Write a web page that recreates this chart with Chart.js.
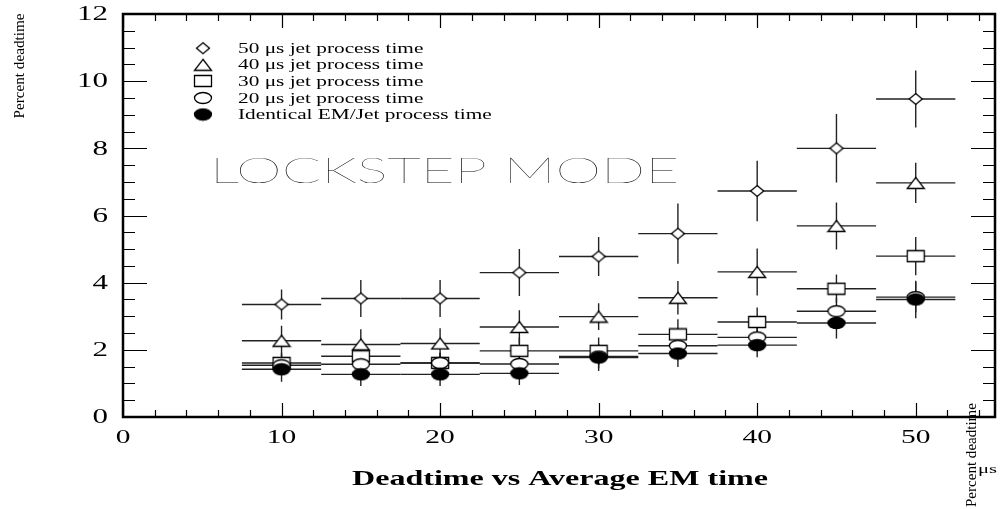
<!DOCTYPE html>
<html>
<head>
<meta charset="utf-8">
<script src="https://cdn.jsdelivr.net/npm/chart.js@4"></script>
<style>
  html, body { margin: 0; padding: 0; background: #fff; }
  #wrap { width: 1000px; height: 509px; }
</style>
</head>
<body>
<div id="wrap"><canvas id="deadtimeChart" width="1000" height="509"></canvas></div>
<script>
// average EM time (us) and half width of each bin
var emTime = [10, 15, 20, 25, 30, 35, 40, 45, 50];
var emHalfWidth = [2.5, 2.5, 2.5, 2.5, 2.5, 2.5, 2.5, 2.5, 2.5];

// percent deadtime per jet process time
var jet50 = [3.35, 3.53, 3.53, 4.30, 4.78, 5.46, 6.73, 8.00, 9.47];
var jet50Err = [0.45, 0.55, 0.55, 0.70, 0.58, 0.90, 0.90, 1.02, 0.85];
var jet40 = [2.27, 2.16, 2.19, 2.68, 2.99, 3.55, 4.32, 5.69, 6.97];
var jet40Err = [0.45, 0.45, 0.45, 0.50, 0.40, 0.50, 0.70, 0.70, 0.60];
var jet30 = [1.61, 1.81, 1.61, 1.97, 1.97, 2.46, 2.83, 3.82, 4.79];
var jet30Err = [0.30, 0.35, 0.30, 0.40, 0.40, 0.45, 0.43, 0.42, 0.57];
var jet20 = [1.54, 1.57, 1.61, 1.58, 1.80, 2.12, 2.37, 3.15, 3.57];
var jet20Err = [0.30, 0.30, 0.30, 0.30, 0.35, 0.35, 0.35, 0.40, 0.45];
var identical = [1.42, 1.27, 1.27, 1.30, 1.77, 1.89, 2.14, 2.80, 3.50];
var identicalErr = [0.37, 0.35, 0.35, 0.35, 0.40, 0.40, 0.36, 0.46, 0.56];

var seriesLabels = [
  "50 \u03bcs jet process time",
  "40 \u03bcs jet process time",
  "30 \u03bcs jet process time",
  "20 \u03bcs jet process time",
  "Identical EM/Jet process time"
];

var xTicks = [0, 10, 20, 30, 40, 50];
var yTicks = [0, 2, 4, 6, 8, 10, 12];

// markers are a bit wider than tall, like the original plot
function makeMarker(kind) {
  var w = 17, h = 11;
  if (kind == "diamond") w = 13;
  var c = document.createElement("canvas");
  c.width = w + 3; c.height = h + 3;
  var g = c.getContext("2d");
  var cx = c.width / 2, cy = c.height / 2;
  g.lineWidth = 1.3;
  g.strokeStyle = "#000";
  g.fillStyle = kind == "filled" ? "#000" : "#fff";
  g.beginPath();
  if (kind == "diamond") {
    g.moveTo(cx, cy - h / 2); g.lineTo(cx + w / 2, cy); g.lineTo(cx, cy + h / 2); g.lineTo(cx - w / 2, cy); g.closePath();
  } else if (kind == "triangle") {
    g.moveTo(cx, cy - h / 2); g.lineTo(cx + w / 2, cy + h / 2); g.lineTo(cx - w / 2, cy + h / 2); g.closePath();
  } else if (kind == "square") {
    g.rect(cx - w / 2, cy - h / 2, w, h);
  } else {
    g.ellipse(cx, cy, w / 2, h / 2, 0, 0, Math.PI * 2);
  }
  g.fill();
  g.stroke();
  return c;
}

var markers = [makeMarker("diamond"), makeMarker("triangle"), makeMarker("square"), makeMarker("circle"), makeMarker("filled")];
var allValues = [jet50, jet40, jet30, jet20, identical];
var allErrors = [jet50Err, jet40Err, jet30Err, jet20Err, identicalErr];

function toPoints(vals) {
  return emTime.map(function (x, i) { return { x: x, y: vals[i] }; });
}

var datasets = allValues.map(function (vals, k) {
  return {
    label: seriesLabels[k],
    data: toPoints(vals),
    pointStyle: markers[k],
    showLine: false,
    order: 5 - k,
    errY: allErrors[k]
  };
});

// text squeezed into the space the original used
function putText(ctx, text, x, y, font, width, align, scale) {
  ctx.save();
  ctx.font = font;
  var s = scale || 1;
  if (width) s = width / ctx.measureText(text).width;
  ctx.translate(x, y);
  ctx.scale(s, 1);
  ctx.textAlign = align || "left";
  ctx.fillStyle = "#000";
  ctx.fillText(text, 0, 0);
  ctx.restore();
}

function putTextUp(ctx, text, x, y, font, length) {
  ctx.save();
  ctx.font = font;
  var s = length / ctx.measureText(text).width;
  ctx.translate(x, y);
  ctx.rotate(-Math.PI / 2);
  ctx.scale(s, 1);
  ctx.textAlign = "center";
  ctx.textBaseline = "middle";
  ctx.fillStyle = "#000";
  ctx.fillText(text, 0, 0);
  ctx.restore();
}

var errorBars = {
  id: "errorBars",
  beforeDatasetsDraw: function (chart) {
    var ctx = chart.ctx, xs = chart.scales.x, ys = chart.scales.y;
    ctx.save();
    ctx.strokeStyle = "#222";
    ctx.lineWidth = 1.4;
    chart.data.datasets.forEach(function (ds) {
      ds.data.forEach(function (p, i) {
        var px = xs.getPixelForValue(p.x), py = ys.getPixelForValue(p.y);
        ctx.beginPath();
        ctx.moveTo(xs.getPixelForValue(p.x - emHalfWidth[i]), py);
        ctx.lineTo(xs.getPixelForValue(p.x + emHalfWidth[i]), py);
        ctx.moveTo(px, ys.getPixelForValue(p.y + ds.errY[i]));
        ctx.lineTo(px, ys.getPixelForValue(p.y - ds.errY[i]));
        ctx.stroke();
      });
    });
    ctx.restore();
  }
};

var frameAndText = {
  id: "frameAndText",
  afterDraw: function (chart) {
    var ctx = chart.ctx, a = chart.chartArea, xs = chart.scales.x, ys = chart.scales.y;
    ctx.save();
    ctx.strokeStyle = "#000";
    ctx.lineWidth = 1.2;
    ctx.beginPath();
    // y ticks every 0.5, long ones on labelled values
    for (var v = 0; v <= 12.001; v += 0.5) {
      var py = Math.round(ys.getPixelForValue(v)) + 0.5;
      var len = (v % 2 == 0) ? 24 : 12;
      ctx.moveTo(a.left, py); ctx.lineTo(a.left + len, py);
      ctx.moveTo(a.right, py); ctx.lineTo(a.right - len, py);
    }
    // x ticks every 2, long ones every 10
    for (var u = 0; u <= 55; u += 2) {
      var px = Math.round(xs.getPixelForValue(u)) + 0.5;
      var l2 = (u % 10 == 0) ? 14 : 7;
      ctx.moveTo(px, a.bottom); ctx.lineTo(px, a.bottom - l2);
      ctx.moveTo(px, a.top); ctx.lineTo(px, a.top + l2);
    }
    ctx.stroke();
    ctx.lineWidth = 2.5;
    ctx.strokeRect(a.left, a.top, a.right - a.left, a.bottom - a.top);
    ctx.restore();

    ctx.save();
    ctx.textBaseline = "middle";
    yTicks.forEach(function (t) {
      putText(ctx, String(t), 108, ys.getPixelForValue(t) + 1, "20px 'Liberation Serif'", null, "right", 1.55);
    });
    xTicks.forEach(function (t) {
      putText(ctx, String(t), xs.getPixelForValue(t), 438, "19px 'Liberation Serif'", null, "center", 1.55);
    });
    ctx.restore();

    ctx.save();
    ctx.textBaseline = "alphabetic";
    // legend
    var base = [52.7, 69.3, 85.5, 102.5, 119];
    seriesLabels.forEach(function (lab, k) {
      var m = markers[k];
      ctx.drawImage(m, 203 - m.width / 2, base[k] - 4.5 - m.height / 2);
      putText(ctx, lab, 238, base[k], "15px 'Liberation Serif'", null, "left", 1.42);
    });
    putText(ctx, "LOCKSTEP MODE", 210, 183, "100 36px Lato", 469, "left");
    putText(ctx, "Deadtime vs Average EM time", 352, 485, "bold 22px 'Liberation Serif'", 416, "left");
    putText(ctx, "\u03bcs", 978, 473, "13px 'Liberation Serif'", 19, "left");
    ctx.restore();

    putTextUp(ctx, "Percent deadtime", 20, 66, "15px 'Liberation Serif'", 105);
    putTextUp(ctx, "Percent deadtime", 972, 455, "15px 'Liberation Serif'", 104);
  }
};

new Chart("deadtimeChart", {
  type: "scatter",
  data: { datasets: datasets },
  options: {
    responsive: false,
    animation: false,
    events: [],
    layout: { padding: { left: 123, right: 2, top: 14, bottom: 92 } },
    scales: {
      x: { type: "linear", min: 0, max: 55, display: false },
      y: { type: "linear", min: 0, max: 12, display: false }
    },
    plugins: {
      legend: { display: false },
      tooltip: { enabled: false }
    }
  },
  plugins: [errorBars, frameAndText]
});
</script>
</body>
</html>
